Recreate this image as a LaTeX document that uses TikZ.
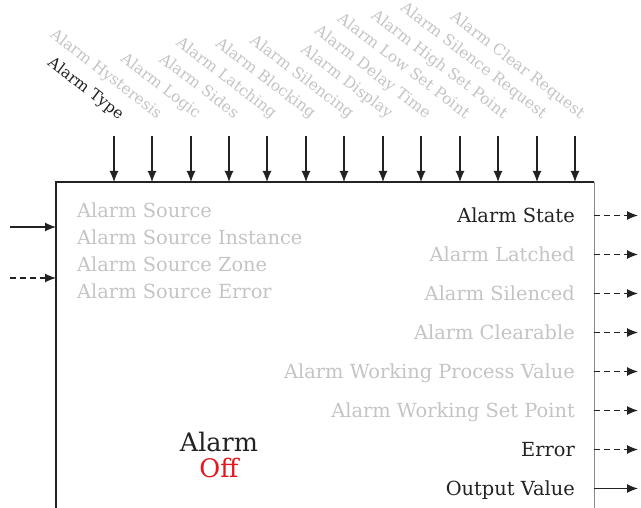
\documentclass[tikz,border=0pt]{standalone}
\usepackage{fontspec}
\setmainfont{DejaVu Serif}
\usetikzlibrary{arrows.meta,positioning}
\definecolor{ink}{HTML}{222222}
\definecolor{faded}{HTML}{C4C4C4}
\definecolor{rimgray}{HTML}{8A8A8A}
\definecolor{alarmred}{HTML}{E3161E}
\tikzset{
	block/.style={minimum width=538pt, minimum height=400pt, anchor=north west, inner sep=0pt},
	rim/.style={draw=ink, line width=1.2pt},
	tag/.style={inner sep=0pt, text height=14pt, text depth=0pt, font=\fontsize{19.4}{22}\selectfont, text=faded},
	intag/.style={tag, font=\fontsize{15.5}{18}\selectfont, rotate=-37.5, anchor=base east},
	flow/.style={-{Latex[length=11pt, width=9pt]}, line width=1.2pt, draw=ink},
	dflow/.style={flow, dash pattern=on 6pt off 4pt}
}

\begin{document}
\begin{tikzpicture}[x=1pt, y=1pt]
	\useasboundingbox (0,0) rectangle (641,-508);
	\clip (0,0) rectangle (641,-508);
	\node[block] (alarm) at (56,-182) {};
	\draw[rim] (alarm.south west) -- (alarm.north west) -- (alarm.north east);
	\draw[rim, draw=rimgray] (alarm.north east) -- (alarm.south east);
	\coordinate (lrim) at (10,0);
	\coordinate (rrim) at (638,0);

	% parameters along the top
	\node[intag, text=ink] (typ) at (119,-120) {Alarm Type};
	\node[intag] (hyst) at (157,-119) {Alarm Hysteresis};
	\node[intag] (logic) at (196,-119) {Alarm Logic};
	\node[intag] (sides) at (234,-119) {Alarm Sides};
	\node[intag] (latch) at (272,-119) {Alarm Latching};
	\node[intag] (block) at (311,-119) {Alarm Blocking};
	\node[intag] (silen) at (349,-119) {Alarm Silencing};
	\node[intag] (disp) at (388,-119) {Alarm Display};
	\node[intag] (delay) at (426,-119) {Alarm Delay Time};
	\node[intag] (lowsp) at (465,-119) {Alarm Low Set Point};
	\node[intag] (highsp) at (503,-119) {Alarm High Set Point};
	\node[intag] (silreq) at (542,-119) {Alarm Silence Request};
	\node[intag] (clrreq) at (580,-119) {Alarm Clear Request};
	\coordinate (typin) at (114,-136);
	\coordinate (hystin) at (152,-136);
	\coordinate (logicin) at (191,-136);
	\coordinate (sidesin) at (229,-136);
	\coordinate (latchin) at (267,-136);
	\coordinate (blockin) at (306,-136);
	\coordinate (silenin) at (344,-136);
	\coordinate (dispin) at (383,-136);
	\coordinate (delayin) at (421,-136);
	\coordinate (lowspin) at (460,-136);
	\coordinate (highspin) at (498,-136);
	\coordinate (silreqin) at (537,-136);
	\coordinate (clrreqin) at (575,-136);
	\draw[flow] (typin) -- (typin |- alarm.north);
	\draw[flow] (hystin) -- (hystin |- alarm.north);
	\draw[flow] (logicin) -- (logicin |- alarm.north);
	\draw[flow] (sidesin) -- (sidesin |- alarm.north);
	\draw[flow] (latchin) -- (latchin |- alarm.north);
	\draw[flow] (blockin) -- (blockin |- alarm.north);
	\draw[flow] (silenin) -- (silenin |- alarm.north);
	\draw[flow] (dispin) -- (dispin |- alarm.north);
	\draw[flow] (delayin) -- (delayin |- alarm.north);
	\draw[flow] (lowspin) -- (lowspin |- alarm.north);
	\draw[flow] (highspin) -- (highspin |- alarm.north);
	\draw[flow] (silreqin) -- (silreqin |- alarm.north);
	\draw[flow] (clrreqin) -- (clrreqin |- alarm.north);

	% source inputs on the left
	\node[tag, anchor=west] (src) at (77,-210.7) {Alarm Source};
	\node[tag, below=12.7pt of src.south west, anchor=north west] (srcinst) {Alarm Source Instance};
	\node[tag, below=12.7pt of srcinst.south west, anchor=north west] (srczone) {Alarm Source Zone};
	\node[tag, below=12.7pt of srczone.south west, anchor=north west] (srcerr) {Alarm Source Error};
	\coordinate (srcin) at (56,-227);
	\coordinate (errin) at (56,-278);
	\draw[flow] (srcin -| lrim) -- (srcin);
	\draw[dflow] (errin -| lrim) -- (errin);

	% outputs on the right
	\node[tag, text=ink, anchor=east] (state) at (575,-215.5) {Alarm State};
	\node[tag, below=24.6pt of state.south east, anchor=north east] (latched) {Alarm Latched};
	\node[tag, below=24.6pt of latched.south east, anchor=north east] (silenced) {Alarm Silenced};
	\node[tag, below=24.6pt of silenced.south east, anchor=north east] (clearable) {Alarm Clearable};
	\node[tag, below=24.6pt of clearable.south east, anchor=north east] (workpv) {Alarm Working Process Value};
	\node[tag, below=24.6pt of workpv.south east, anchor=north east] (worksp) {Alarm Working Set Point};
	\node[tag, text=ink, below=24.6pt of worksp.south east, anchor=north east] (err) {Error};
	\node[tag, text=ink, below=24.6pt of err.south east, anchor=north east] (outval) {Output Value};
	\draw[dflow] (state.east -| alarm.east) -- (state.east -| rrim);
	\draw[dflow] (latched.east -| alarm.east) -- (latched.east -| rrim);
	\draw[dflow] (silenced.east -| alarm.east) -- (silenced.east -| rrim);
	\draw[dflow] (clearable.east -| alarm.east) -- (clearable.east -| rrim);
	\draw[dflow] (workpv.east -| alarm.east) -- (workpv.east -| rrim);
	\draw[dflow] (worksp.east -| alarm.east) -- (worksp.east -| rrim);
	\draw[dflow] (err.east -| alarm.east) -- (err.east -| rrim);
	\draw[flow] (outval.east -| alarm.east) -- (outval.east -| rrim);

	\node[align=center, inner sep=0pt, text=ink, font=\fontsize{25.5}{26.6}\selectfont] (title) at (219,-455) {Alarm\\\textcolor{alarmred}{Off}};
\end{tikzpicture}
\end{document}
